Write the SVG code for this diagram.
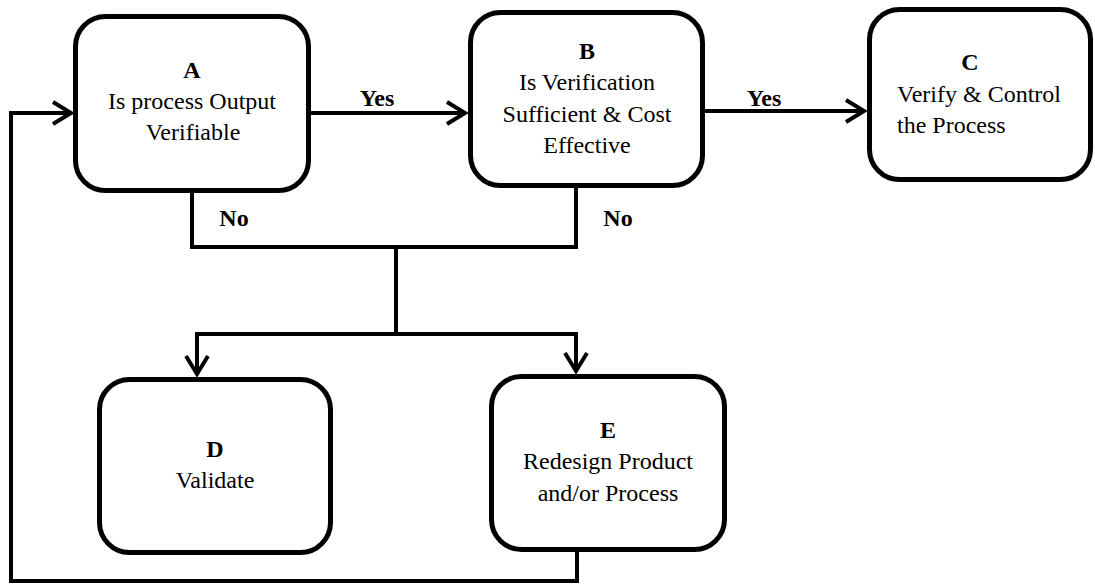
<svg xmlns="http://www.w3.org/2000/svg" width="1095" height="585" viewBox="0 0 1095 585">
<style>
.box{fill:#fff;stroke:#000;stroke-width:5}
.t{font-family:"Liberation Serif","Times New Roman",serif;font-size:24px;fill:#000}
.b{font-weight:bold}
.m{text-anchor:middle}
.c{fill:none;stroke:#000;stroke-width:4}
</style>
<defs>
<marker id="ah" markerUnits="userSpaceOnUse" markerWidth="30" markerHeight="30" viewBox="-25 -15 30 30" refX="0" refY="0" orient="auto">
<path d="M-19,-11 L-1,0 L-19,11" fill="none" stroke="#000" stroke-width="4"/>
</marker>
</defs>
<g id="connectors">
<path class="c" d="M311,113 H466" marker-end="url(#ah)"/>
<path class="c" d="M705,111 H865" marker-end="url(#ah)"/>
<path class="c" d="M577,552 V581 H11 V113 H72" marker-end="url(#ah)"/>
<path class="c" d="M192,193 V247 H576 V188"/>
<path class="c" d="M396,247 V334"/>
<path class="c" d="M398,334 H197 V375" marker-end="url(#ah)"/>
<path class="c" d="M394,334 H576 V372" marker-end="url(#ah)"/>
<text class="t b m" x="377" y="106">Yes</text>
<text class="t b m" x="764" y="106">Yes</text>
<text class="t b m" x="234" y="226">No</text>
<text class="t b m" x="618" y="226">No</text>
</g>
<g id="A">
<rect class="box" x="75.5" y="16.5" width="233" height="174" rx="30"/>
<text class="t b m" x="192" y="78">A</text>
<text class="t m" x="192" y="109">Is process Output</text>
<text class="t m" x="193" y="140">Verifiable</text>
</g>
<g id="B">
<rect class="box" x="470.5" y="12.5" width="232" height="173" rx="30"/>
<text class="t b m" x="587" y="59">B</text>
<text class="t m" x="587" y="90">Is Verification</text>
<text class="t m" x="587" y="122">Sufficient &amp; Cost</text>
<text class="t m" x="587" y="153">Effective</text>
</g>
<g id="C">
<rect class="box" x="869.5" y="9.5" width="221" height="170" rx="30"/>
<text class="t b m" x="970" y="70">C</text>
<text class="t" x="897" y="102">Verify &amp; Control</text>
<text class="t" x="897" y="133">the Process</text>
</g>
<g id="D">
<rect class="box" x="99.5" y="379.5" width="231" height="173" rx="30"/>
<text class="t b m" x="215" y="457">D</text>
<text class="t m" x="215" y="488">Validate</text>
</g>
<g id="E">
<rect class="box" x="491.5" y="376.5" width="233" height="173" rx="30"/>
<text class="t b m" x="608" y="438">E</text>
<text class="t m" x="608" y="469">Redesign Product</text>
<text class="t m" x="608" y="501">and/or Process</text>
</g>
</svg>
